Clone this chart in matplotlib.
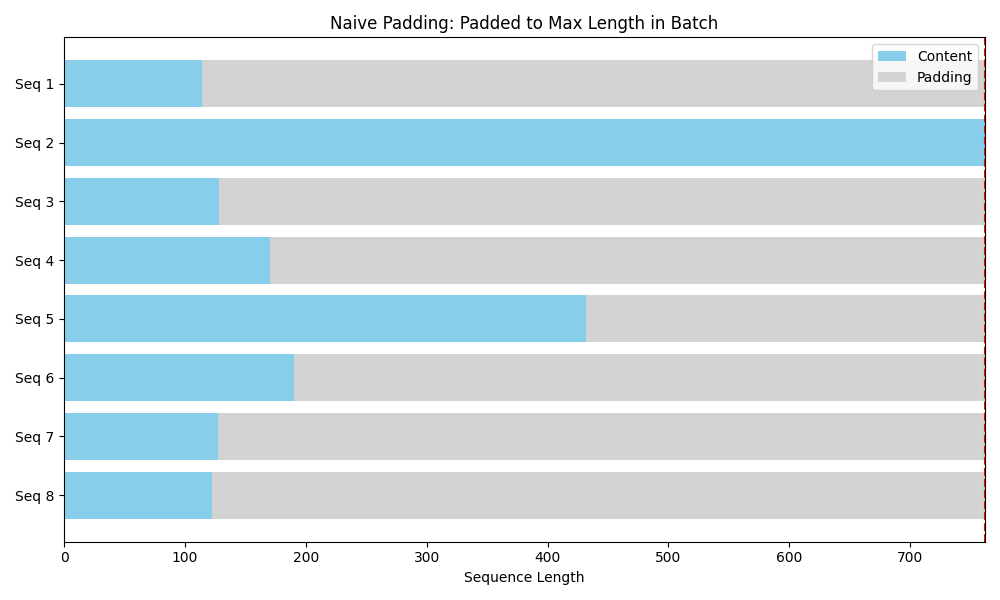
import matplotlib
matplotlib.use("Agg")
import matplotlib.pyplot as plt

labels = ["Seq 1", "Seq 2", "Seq 3", "Seq 4", "Seq 5", "Seq 6", "Seq 7", "Seq 8"]
lengths = [114, 762, 128, 170, 432, 190, 127, 122]
max_len = max(lengths)
padding = [max_len - l for l in lengths]

fig, ax = plt.subplots(figsize=(10, 6), dpi=100)
ax.barh(labels, lengths, color="skyblue", label="Content")
ax.barh(labels, padding, left=lengths, color="lightgray", label="Padding")
ax.axvline(max_len, color="red", linestyle="--")
ax.invert_yaxis()
ax.set_xlim(0, max_len)
ax.set_xlabel("Sequence Length")
ax.set_title("Naive Padding: Padded to Max Length in Batch")
ax.legend(loc="upper right")
fig.tight_layout()
fig.savefig("out.png")
